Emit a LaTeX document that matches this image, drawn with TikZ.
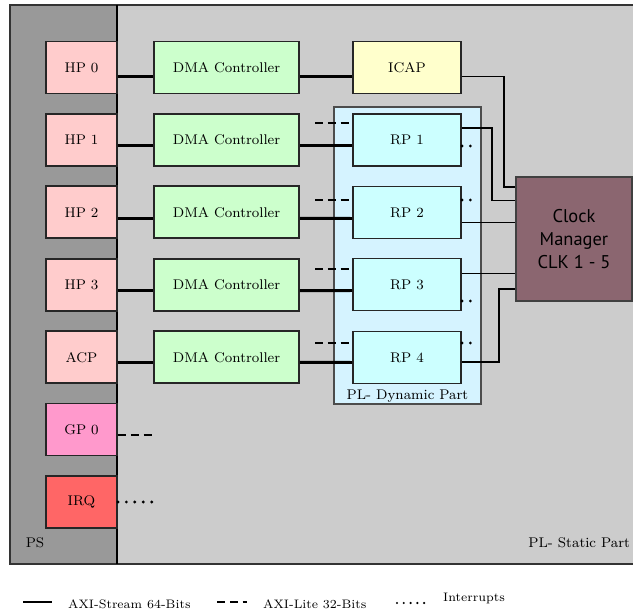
\documentclass[tikz,border=0pt]{standalone}
\usepackage{fontspec}
\usepackage{tikz}
\usetikzlibrary{calc}
\newfontfamily\clkfont{PT Sans}
\definecolor{psgray}{HTML}{999999}
\definecolor{statgray}{HTML}{CCCCCC}
\definecolor{hppink}{HTML}{FFCCCC}
\definecolor{gppink}{HTML}{FF99CC}
\definecolor{irqred}{HTML}{FF6666}
\definecolor{dmagreen}{HTML}{CCFFCC}
\definecolor{icapyellow}{HTML}{FFFFCC}
\definecolor{dynblue}{HTML}{D5F3FF}
\definecolor{rpcyan}{HTML}{CCFFFF}
\definecolor{clkmauve}{HTML}{8B6670}

\begin{document}
\begin{tikzpicture}[x=0.02cm,y=-0.02cm,
  blk/.style={draw=black!85,line width=1.1pt,minimum height=1.04cm,inner sep=0pt,font=\footnotesize},
  port/.style={blk,minimum width=1.42cm,fill=hppink},
  dmabox/.style={blk,minimum width=2.9cm,fill=dmagreen},
  rpbox/.style={blk,minimum width=2.16cm,fill=rpcyan},
  strm/.style={line width=1.7pt},
  lite/.style={line width=1.7pt,dash pattern=on 4.5pt off 2.8pt},
  irq/.style={line width=1.8pt,line cap=round,dash pattern=on 0pt off 4.8pt},
  wire/.style={line width=0.6pt}]
  \useasboundingbox (0,0) rectangle (633,615);

  \fill[statgray] (10,5) rectangle (650,564);
  \fill[psgray] (10,5) rectangle (117,564);
  \draw[black!80,line width=1pt] (10,5) rectangle (650,564);
  \draw[line width=1.7pt] (117,5) -- (117,564);
  \node[font=\footnotesize] (ps) at (35,543) {PS};
  \node[font=\footnotesize,anchor=east,inner sep=1pt] (pls) at (632,543) {PL- Static Part};

  \node[draw=black!70,line width=0.9pt,fill=dynblue,minimum width=2.94cm,minimum height=5.94cm] (dyn) at (407.5,255.5) {};
  \node[font=\footnotesize,anchor=south,inner sep=1pt] (dynlab) at (dyn.south) {PL- Dynamic Part};

  \foreach \i/\lab/\y in {0/HP 0/67.5,1/HP 1/140,2/HP 2/212.3,3/HP 3/284.7,4/ACP/357.3}
    \node[port] (port\i) at (81.5,\y) {\lab};
  \node[port,fill=gppink] (gp0) at (81.5,429.5) {GP 0};
  \node[port,fill=irqred] (irq) at (81.5,502) {IRQ};

  \foreach \i/\y in {0/67.5,1/140,2/212.3,3/284.7,4/357.3}
    \node[dmabox] (dma\i) at (226.5,\y) {DMA Controller};

  \node[rpbox,fill=icapyellow] (icap) at (407,67.5) {ICAP};
  \foreach \i/\y in {1/140,2/212.5,3/284.5,4/357.5}
    \node[rpbox] (rp\i) at (407,\y) {RP \i};

  \node[draw=black!75,line width=0.9pt,fill=clkmauve,minimum width=2.32cm,minimum height=2.48cm,
    align=center,font=\clkfont\fontsize{10.5}{13}\selectfont] (clk) at (574,239) {Clock\\Manager\\CLK 1 - 5};

  \foreach \i/\d in {0/9,1/5.5,2/6,3/6,4/5}
    \draw[strm] ($(port\i.east)+(0,\d)$) -- ($(dma\i.west)+(0,\d)$);
  \draw[strm] ($(dma0.east)+(0,9)$) -- ($(icap.west)+(0,9)$);
  \foreach \i/\d in {1/5.5,2/6,3/6,4/5}
    \draw[strm] ($(dma\i.east)+(0,\d)$) -- ($(rp\i.west)+(0,\d)$);

  \foreach \i/\d in {1/-17,2/-12.5,3/-15.5,4/-14.5}{
    \coordinate (lite\i) at ($(rp\i.west)+(-37,\d)$);
    \draw[lite] (lite\i) -- ($(rp\i.west)+(0,\d)$);
  }
  \foreach \i/\d in {1/6,2/-12.5,3/16.5,4/-14.5}{
    \coordinate (int\i) at ($(rp\i.east)+(11,\d)$);
    \draw[irq] ($(rp\i.east)+(0,\d)$) -- (int\i);
  }
  \coordinate (gpend) at ($(gp0.east)+(37,5.5)$);
  \draw[lite] ($(gp0.east)+(0,5.5)$) -- (gpend);
  \coordinate (irqend) at ($(irq.east)+(37,0)$);
  \draw[irq] (irq.east) -- (irqend);

  \draw[wire] ($(icap.east)+(0,9)$) -| (504,187) -- (clk.west |- 0,187);
  \draw[wire] ($(rp1.east)+(0,-12)$) -| (492,200.6) -- (clk.west |- 0,200.6);
  \draw[wire] ($(rp2.east)+(0,10)$) -- (clk.west |- 0,222.5);
  \draw[wire] ($(rp3.east)+(0,-11)$) -- (clk.west |- 0,273.5);
  \draw[wire] ($(rp4.east)+(0,4.5)$) -| (499,289) -- (clk.west |- 0,289);

  \coordinate (ls0) at (23,602);
  \coordinate (ls1) at (52,602);
  \draw[strm] (ls0) -- (ls1);
  \node[font=\scriptsize,anchor=west] (lstrm) at (62,604) {AXI-Stream 64-Bits};
  \coordinate (ll0) at (217,602);
  \coordinate (ll1) at (247,602);
  \draw[lite] (ll0) -- (ll1);
  \node[font=\scriptsize,anchor=west] (llite) at (257,604) {AXI-Lite 32-Bits};
  \coordinate (li0) at (397,603);
  \coordinate (li1) at (425,603);
  \draw[irq,line width=1.4pt,dash pattern=on 0pt off 3.85pt] (li0) -- (li1);
  \node[font=\scriptsize,anchor=west] (lint) at (437,598) {Interrupts};
\end{tikzpicture}
\end{document}
